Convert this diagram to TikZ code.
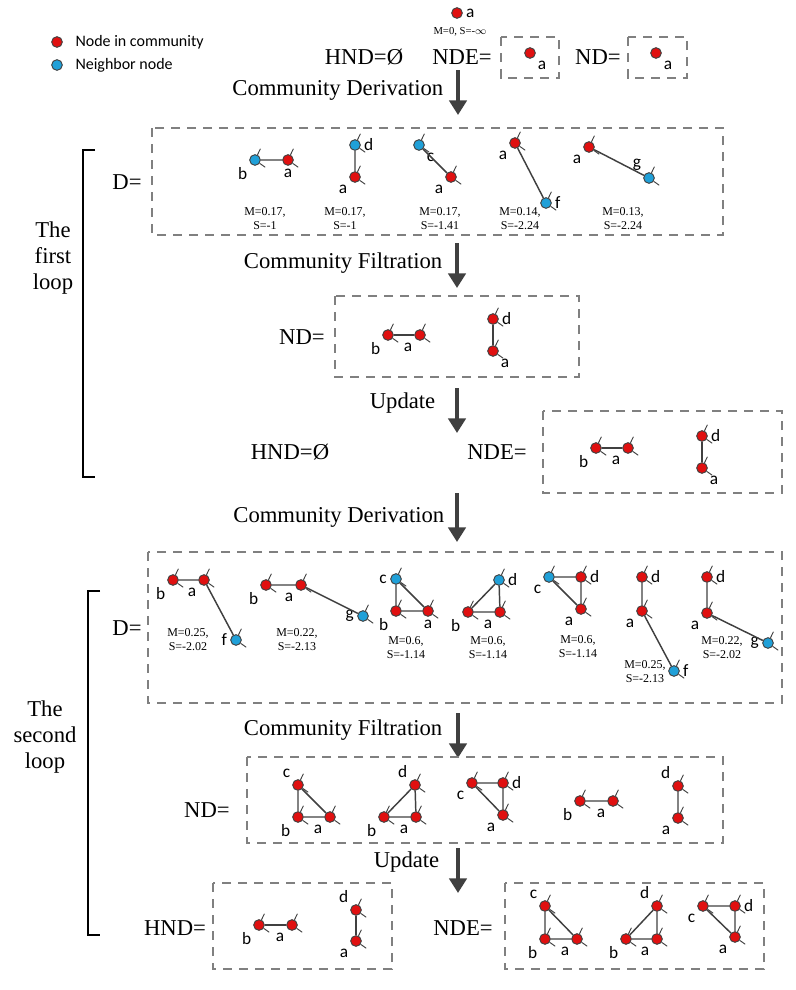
\documentclass[tikz,border=0pt]{standalone}
\usepackage{fontspec}
\setmainfont{Liberation Serif}
\newfontfamily\lblfont{Carlito}
\usetikzlibrary{arrows.meta,positioning}
\definecolor{cred}{HTML}{E01010}
\definecolor{cblue}{HTML}{20A0D8}
\definecolor{cedge}{HTML}{404040}
\newcommand\vx[5]{\node[#3,label={[lbl]#5:#4}] (#1) at (#2) {};}
\begin{document}
\begin{tikzpicture}[x=0.75pt,y=-0.75pt]
\tikzset{
  dot/.style={circle,fill=cred,draw=cedge,line width=0.7pt,inner sep=0pt,minimum size=8pt},
  comm/.style={dot,pin=65:{},pin=-35:{}},
  nbr/.style={comm,fill=cblue},
  bdot/.style={dot,fill=cblue},
  every pin/.style={inner sep=0pt,minimum size=0pt,pin distance=5pt},
  every pin edge/.style={draw=cedge,line width=0.7pt},
  lbl/.style={font=\lblfont\fontsize{13}{14}\selectfont,label distance=-1pt},
  link/.style={draw=cedge,line width=1.1pt},
  dbox/.style={draw=gray,line width=1pt,dash pattern=on 7pt off 5pt},
  big/.style={font=\rmfamily\fontsize{17}{19.5}\selectfont},
  mtext/.style={font=\rmfamily\fontsize{9}{10.5}\selectfont,align=center},
  step arrow/.style={draw=cedge,line width=3pt,-{Triangle[length=11pt,width=13pt]}},
  bracket/.style={draw=black,line width=1.6pt}
}
\useasboundingbox (0,0) rectangle (796,990);
%%% legend
\node[dot] (lg1) at (57,42) {};
\node[right=6pt of lg1,font=\lblfont\fontsize{12}{14}\selectfont] {Node in community};
\node[bdot] (lg2) at (57,65) {};
\node[right=6pt of lg2,font=\lblfont\fontsize{12}{14}\selectfont] {Neighbor node};
%%% start
\vx{t0}{457,13}{dot}{a}{right}
\node[mtext,font=\rmfamily\fontsize{8}{9}\selectfont] at (460,32) {M=0, S=-$\infty$};
\node[big] at (364,57) {HND=Ø};
\node[big] at (462,57) {NDE=};
\draw[dbox] (501,37) rectangle (559,78);
\vx{e0}{530,53}{dot}{a}{below right}
\node[big] at (598,57) {ND=};
\draw[dbox] (628,37) rectangle (687,78);
\vx{n0}{656,53}{dot}{a}{below right}
%%% arrows and steps
\coordinate (s1) at (458,70);  \coordinate (e1) at (458,115);
\coordinate (s2) at (457,243); \coordinate (e2) at (457,288);
\coordinate (s3) at (457,388); \coordinate (e3) at (457,433);
\coordinate (s4) at (457,493); \coordinate (e4) at (457,542);
\coordinate (s5) at (458,713); \coordinate (e5) at (458,758);
\coordinate (s6) at (458,848); \coordinate (e6) at (458,893);
\foreach \i in {1,...,6} {\draw[step arrow] (s\i) -- (e\i);}
\node[big,anchor=east] at (448,90) {Community Derivation};
\node[big,anchor=east] at (447,263) {Community Filtration};
\node[big,anchor=east] at (440,403) {Update};
\node[big,anchor=east] at (449,517) {Community Derivation};
\node[big,anchor=east] at (447,730) {Community Filtration};
\node[big,anchor=east] at (444,862) {Update};
%%% first loop
\draw[bracket] (95,150) -- (83,150) -- (83,477) -- (95,477);
\node[big,align=center] at (53,258) {The\\first\\loop};
\node[big] at (127,182) {D=};
\draw[dbox] (152,128) rectangle (723,235);
\vx{pa}{288,160}{comm}{a}{below}
\vx{pb}{255,160}{nbr}{b}{below left}
\vx{qd}{355,145}{nbr}{d}{right}
\vx{qa}{355,177}{comm}{a}{below left}
\vx{rc}{419,145}{nbr}{c}{below right}
\vx{ra}{451,177}{comm}{a}{below left}
\vx{sa}{515,143}{comm}{a}{below left}
\vx{sf}{546,203}{nbr}{f}{right}
\vx{ua}{589,147}{comm}{a}{below left}
\vx{ug}{649,178}{nbr}{g}{above left}
\draw[link] (pb) -- (pa) (qd) -- (qa) (rc) -- (ra) (sa) -- (sf) (ua) -- (ug);
\node[mtext] at (265,219) {M=0.17,\\S=-1};
\node[mtext] at (345,219) {M=0.17,\\S=-1};
\node[mtext] at (440,219) {M=0.17,\\S=-1.41};
\node[mtext] at (520,219) {M=0.14,\\S=-2.24};
\node[mtext] at (623,219) {M=0.13,\\S=-2.24};
%%
\node[big] at (302,337) {ND=};
\draw[dbox] (335,296) rectangle (579,377);
\vx{fb}{388,335}{comm}{b}{below left}
\vx{fa}{420,335}{comm}{a}{below left}
\vx{fd}{493,319}{comm}{d}{right}
\vx{fa2}{493,351}{comm}{a}{below right}
\draw[link] (fb) -- (fa) (fd) -- (fa2);
%%
\node[big] at (290,452) {HND=Ø};
\node[big] at (497,452) {NDE=};
\draw[dbox] (543,411) rectangle (782,493);
\vx{gb}{596,448}{comm}{b}{below left}
\vx{ga}{628,448}{comm}{a}{below left}
\vx{gd}{702,436}{comm}{d}{right}
\vx{ga2}{702,468}{comm}{a}{below right}
\draw[link] (gb) -- (ga) (gd) -- (ga2);
%%% second loop
\draw[bracket] (100,591) -- (88,591) -- (88,935) -- (100,935);
\node[big,align=center] at (45,737) {The\\second\\loop};
\node[big] at (127,628) {D=};
\draw[dbox] (148,552) rectangle (782,703);
\vx{hb}{173,580}{comm}{b}{below left}
\vx{ha}{204,580}{comm}{a}{below left}
\vx{hf}{236,640}{nbr}{f}{left}
\vx{ib}{266,585}{comm}{b}{below left}
\vx{ia}{301,585}{comm}{a}{below left}
\vx{ig}{363,616}{nbr}{g}{left}
\vx{jc}{396,579}{nbr}{c}{left}
\vx{jb}{396,611}{comm}{b}{below left}
\vx{ja}{428,611}{comm}{a}{below}
\vx{kd}{499,580}{nbr}{d}{right}
\vx{kb}{468,612}{comm}{b}{below left}
\vx{ka}{500,612}{comm}{a}{below left}
\vx{lc}{549,577}{nbr}{c}{below left}
\vx{ld}{581,577}{comm}{d}{right}
\vx{la}{581,609}{comm}{a}{below left}
\vx{md}{642,577}{comm}{d}{right}
\vx{ma}{642,611}{comm}{a}{below left}
\vx{mf}{674,671}{nbr}{f}{right}
\vx{od}{707,577}{comm}{d}{right}
\vx{oa}{707,613}{comm}{a}{below left}
\vx{og}{768,643}{nbr}{g}{left}
\draw[link] (hb) -- (ha) -- (hf) (ib) -- (ia) -- (ig)
  (jc) -- (jb) -- (ja) -- (jc) (kb) -- (kd) -- (ka) -- (kb)
  (lc) -- (ld) -- (la) -- (lc) (md) -- (ma) -- (mf) (od) -- (oa) -- (og);
\node[mtext] at (188,640) {M=0.25,\\S=-2.02};
\node[mtext] at (297,640) {M=0.22,\\S=-2.13};
\node[mtext] at (406,648) {M=0.6,\\S=-1.14};
\node[mtext] at (488,648) {M=0.6,\\S=-1.14};
\node[mtext] at (578,647) {M=0.6,\\S=-1.14};
\node[mtext] at (645,672) {M=0.25,\\S=-2.13};
\node[mtext] at (722,648) {M=0.22,\\S=-2.02};
%%
\node[big] at (207,810) {ND=};
\draw[dbox] (247,757) rectangle (723,843);
\vx{vc}{298,785}{comm}{c}{above left}
\vx{vb}{298,817}{comm}{b}{below left}
\vx{va}{330,817}{comm}{a}{below left}
\vx{wd}{415,785}{comm}{d}{above left}
\vx{wb}{384,817}{comm}{b}{below left}
\vx{wa}{416,817}{comm}{a}{below left}
\vx{xc}{472,783}{comm}{c}{below left}
\vx{xd}{503,783}{comm}{d}{right}
\vx{xa}{503,815}{comm}{a}{below left}
\vx{yb}{580,801}{comm}{b}{below left}
\vx{ya}{613,801}{comm}{a}{below left}
\vx{zd}{678,786}{comm}{d}{above left}
\vx{za}{678,818}{comm}{a}{below left}
\draw[link] (vc) -- (vb) -- (va) -- (vc) (wb) -- (wd) -- (wa) -- (wb)
  (xc) -- (xd) -- (xa) -- (xc) (yb) -- (ya) (zd) -- (za);
%%
\node[big] at (175,928) {HND=};
\draw[dbox] (213,883) rectangle (392,969);
\vx{Hb}{259,925}{comm}{b}{below left}
\vx{Ha}{292,925}{comm}{a}{below left}
\vx{Hd}{356,910}{comm}{d}{above left}
\vx{Ha2}{356,941}{comm}{a}{below left}
\draw[link] (Hb) -- (Ha) (Hd) -- (Ha2);
\node[big] at (463,928) {NDE=};
\draw[dbox] (505,883) rectangle (764,969);
\vx{Ec}{545,906}{comm}{c}{above left}
\vx{Eb}{545,939}{comm}{b}{below left}
\vx{Ea}{577,939}{comm}{a}{below left}
\vx{Fd}{657,906}{comm}{d}{above left}
\vx{Fb}{626,939}{comm}{b}{below left}
\vx{Fa}{657,939}{comm}{a}{below left}
\vx{Gc}{703,906}{comm}{c}{below left}
\vx{Gd}{735,906}{comm}{d}{right}
\vx{Ga}{735,937}{comm}{a}{below left}
\draw[link] (Ec) -- (Eb) -- (Ea) -- (Ec) (Fb) -- (Fd) -- (Fa) -- (Fb)
  (Gc) -- (Gd) -- (Ga) -- (Gc);
\end{tikzpicture}
\end{document}
